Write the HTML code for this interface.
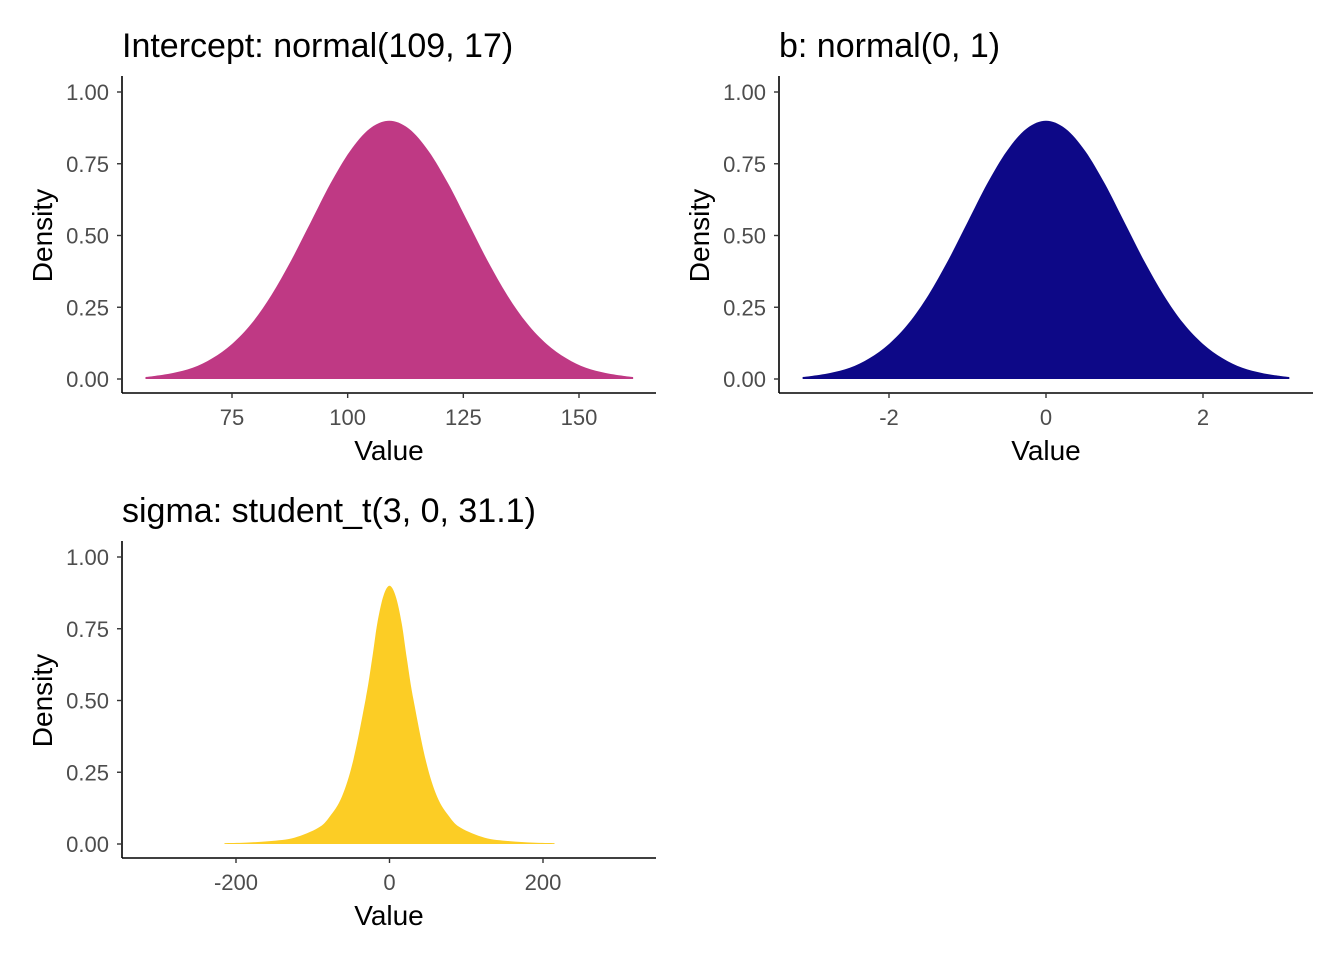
<!DOCTYPE html>
<html><head><meta charset="utf-8"><style>
body{margin:0;background:#fff}
svg{display:block}
text{font-family:"Liberation Sans",Arial,sans-serif}
.tick{fill:#4d4d4d;font-size:22px}
.axt{fill:#000;font-size:28px}
.ttl{fill:#000;font-size:34px}
</style></head><body>
<svg id="c" width="1344" height="960" xmlns="http://www.w3.org/2000/svg"></svg>
<script>
// Panel 1: Intercept normal(109, 17)
const p1X = [56.3,58,62.25,66.5,70.75,75,79.25,83.5,87.75,92,96.25,100.5,104.75,109,113.25,117.5,121.75,126,130.25,134.5,138.75,143,147.25,151.5,155.75,160,161.7];
const p1Y = [0.007,0.010,0.021,0.039,0.072,0.122,0.194,0.292,0.412,0.546,0.680,0.794,0.872,0.9,0.872,0.794,0.680,0.546,0.412,0.292,0.194,0.122,0.072,0.039,0.021,0.010,0.007];
// Panel 2: b normal(0, 1)
const p2X = [-3.1,-3,-2.75,-2.5,-2.25,-2,-1.75,-1.5,-1.25,-1,-0.75,-0.5,-0.25,0,0.25,0.5,0.75,1,1.25,1.5,1.75,2,2.25,2.5,2.75,3,3.1];
const p2Y = [0.007,0.010,0.021,0.039,0.072,0.122,0.194,0.292,0.412,0.546,0.680,0.794,0.872,0.9,0.872,0.794,0.680,0.546,0.412,0.292,0.194,0.122,0.072,0.039,0.021,0.010,0.007];
// Panel 3: sigma student_t(3, 0, 31.1)
const p3X = [-215,-187,-156,-124,-93,-78,-62,-47,-31,-23,-16,-8,0,8,16,23,31,47,62,78,93,124,156,187,215];
const p3Y = [0.003,0.005,0.010,0.022,0.056,0.095,0.165,0.294,0.506,0.638,0.767,0.864,0.9,0.864,0.767,0.638,0.506,0.294,0.165,0.095,0.056,0.022,0.010,0.005,0.003];
const yTicks = [0,0.25,0.5,0.75,1];
const yTickLabels = ["0.00","0.25","0.50","0.75","1.00"];
const p1Ticks = [75,100,125,150];
const p2Ticks = [-2,0,2];
const p2TickLabels = ["-2","0","2"];
const p3Ticks = [-200,0,200];

const NS="http://www.w3.org/2000/svg";
const svg=document.getElementById('c');
function el(tag,attrs,parent){const e=document.createElementNS(NS,tag);for(const k in attrs)e.setAttribute(k,attrs[k]);(parent||svg).appendChild(e);return e;}

function panel(o){
  const g=el('g',{});
  
  
  const sx=v=>o.x0+(v-o.d0)*(o.x1-o.x0)/(o.d1-o.d0);
  const sy=v=>o.y0-v*(o.y0-o.y1);
  const P=o.xs.map((x,i)=>[sx(x),sy(o.ys[i])]);
  let d='M'+P[0][0]+','+sy(0)+' L'+P[0][0].toFixed(1)+','+P[0][1].toFixed(1);
  for(let i=0;i<P.length-1;i++){
    const p0=P[Math.max(0,i-1)],p1=P[i],p2=P[i+1],p3=P[Math.min(P.length-1,i+2)];
    const c1=[p1[0]+(p2[0]-p0[0])/6,p1[1]+(p2[1]-p0[1])/6];
    const c2=[p2[0]-(p3[0]-p1[0])/6,p2[1]-(p3[1]-p1[1])/6];
    d+=' C'+c1[0].toFixed(1)+','+c1[1].toFixed(1)+' '+c2[0].toFixed(1)+','+c2[1].toFixed(1)+' '+p2[0].toFixed(1)+','+p2[1].toFixed(1);
  }
  d+=' L'+P[P.length-1][0]+','+sy(0)+' Z';
  const a=el('path',{d:d,fill:o.color},g);
  
  
  const ya=el('line',{x1:o.ax,y1:o.top,x2:o.ax,y2:o.ay,stroke:'#000','stroke-width':1.6},g);
  
  
  const xa=el('line',{x1:o.ax,y1:o.ay,x2:o.right,y2:o.ay,stroke:'#000','stroke-width':1.6},g);
  
  
  yTicks.forEach((v,i)=>{
    el('line',{x1:o.ax-5,x2:o.ax,y1:sy(v),y2:sy(v),stroke:'#333','stroke-width':1.4},g);
    const t=el('text',{x:o.ax-13,y:sy(v)+8,'text-anchor':'end',class:'tick'},g);
    t.textContent=yTickLabels[i];
    
    
  });
  o.xt.forEach((v,i)=>{
    el('line',{x1:sx(v),x2:sx(v),y1:o.ay,y2:o.ay+5,stroke:'#333','stroke-width':1.4},g);
    const t=el('text',{x:sx(v),y:o.ay+32,'text-anchor':'middle',class:'tick'},g);
    t.textContent=o.xtl?o.xtl[i]:String(v);
    
    
  });
  const xt=el('text',{x:(o.ax+o.right)/2,y:o.ay+67,'text-anchor':'middle',class:'axt'},g);
  xt.textContent='Value';
  
  
  const yt=el('text',{x:0,y:0,'text-anchor':'middle',class:'axt',transform:'translate('+(o.ax-70)+','+sy(0.5)+') rotate(-90)'},g);
  yt.textContent='Density';
  
  
  const tt=el('text',{x:o.ax,y:o.top-19,class:'ttl'},g);
  tt.textContent=o.title;
  
  
}
panel({name:'intercept-panel',xs:p1X,ys:p1Y,color:'#bf3984',d0:75,d1:150,x0:232,x1:579,y0:379,y1:92,ax:122,ay:393,top:76,right:656,xt:p1Ticks,title:'Intercept: normal(109, 17)'});
panel({name:'b-panel',xs:p2X,ys:p2Y,color:'#0d0887',d0:-2,d1:2,x0:889,x1:1203,y0:379,y1:92,ax:779,ay:393,top:76,right:1313,xt:p2Ticks,xtl:p2TickLabels,title:'b: normal(0, 1)'});
panel({name:'sigma-panel',xs:p3X,ys:p3Y,color:'#fccd25',d0:-200,d1:200,x0:236,x1:543,y0:844,y1:557,ax:122,ay:858,top:541,right:656,xt:p3Ticks,title:'sigma: student_t(3, 0, 31.1)'});
</script>
</body></html>
